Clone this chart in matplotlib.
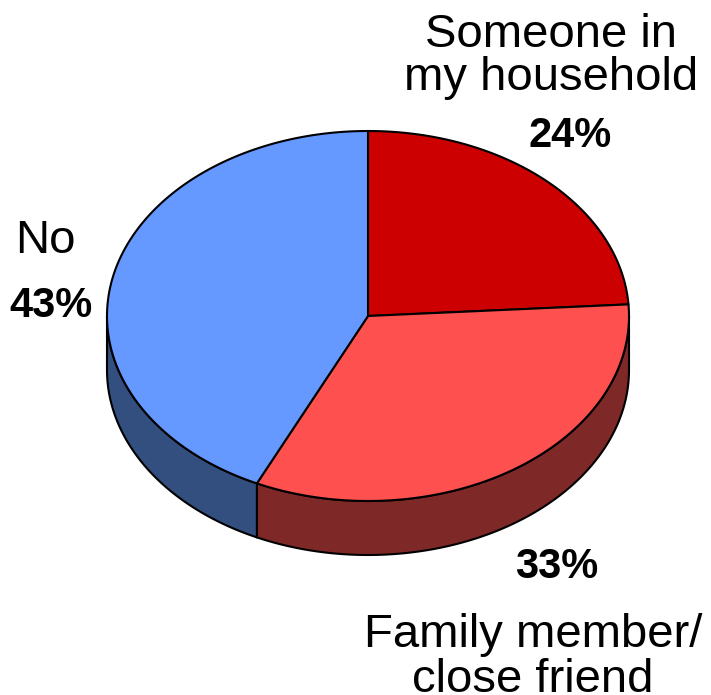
import numpy as np
import matplotlib.pyplot as plt
from matplotlib.patches import Polygon

plt.rcParams['font.family'] = ['Liberation Sans', 'DejaVu Sans']

# Slice data, clockwise from 12 o'clock
labels = ['Someone in\nmy household', 'Family member/\nclose friend', 'No']
values = [24, 33, 43]
top_colors = ['#CC0000', '#FF5050', '#6699FF']
side_colors = ['#7F2020', '#7F2828', '#334F80']

# Pie geometry in pixel units
cx, cy = 368, 316
rx, ry = 261, 185
depth = 54
edge_lw = 1.5

fig = plt.figure(figsize=(7.11, 6.95), dpi=100)
ax = fig.add_axes([0, 0, 1, 1])
ax.set_xlim(0, 711)
ax.set_ylim(695, 0)
ax.axis('off')


def ellipse_pts(t0, t1, dy=0.0, n=200):
    t = np.radians(np.linspace(t0, t1, n))
    return np.column_stack([cx + rx * np.cos(t), cy - ry * np.sin(t) + dy])


# Start/end angles (degrees, math convention), going clockwise
fractions = np.array(values) / sum(values)
starts = 90 - 360 * np.concatenate([[0], np.cumsum(fractions)[:-1]])
ends = starts - 360 * fractions

# Side walls: only the front half (-180..0) is visible
for s, e, col in zip(starts, ends, side_colors):
    lo, hi = max(e, -180), min(s, 0)
    if hi <= lo:
        continue
    top = ellipse_pts(hi, lo)
    bottom = ellipse_pts(lo, hi, dy=depth)
    ax.add_patch(Polygon(np.vstack([top, bottom]), closed=True,
                         facecolor=col, edgecolor='black', linewidth=edge_lw,
                         joinstyle='round', zorder=1))

# Top faces
for s, e, col in zip(starts, ends, top_colors):
    arc = ellipse_pts(s, e)
    ax.add_patch(Polygon(np.vstack([[cx, cy], arc]), closed=True,
                         facecolor=col, edgecolor='black', linewidth=edge_lw,
                         joinstyle='round', zorder=2))

# Category labels and percentages
ax.text(551, 90, labels[0], ha='center', va='baseline', fontsize=34, linespacing=0.97)
ax.text(570, 147, f'{values[0]}%', ha='center', va='baseline', fontsize=30, fontweight='bold')
ax.text(557, 578, f'{values[1]}%', ha='center', va='baseline', fontsize=30, fontweight='bold')
ax.text(533, 692, labels[1], ha='center', va='baseline', fontsize=34, linespacing=1.02)
ax.text(15, 253, labels[2], ha='left', va='baseline', fontsize=34)
ax.text(51, 317, f'{values[2]}%', ha='center', va='baseline', fontsize=30, fontweight='bold')

fig.savefig('out.png', dpi=100)
